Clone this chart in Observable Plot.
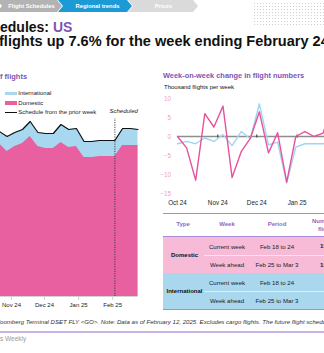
<!DOCTYPE html>
<html><head><meta charset="utf-8">
<script src="https://cdn.jsdelivr.net/npm/d3@7"></script>
<script src="https://cdn.jsdelivr.net/npm/@observablehq/plot@0.6"></script>
<style>
html,body{margin:0;padding:0;}
body{width:324px;height:353px;overflow:hidden;position:relative;background:#fff;font-family:Arial,"Liberation Sans",sans-serif;color:#111;}
.abs{position:absolute;white-space:nowrap;}
svg{max-width:none !important;}
.crumb{position:absolute;top:0;height:12px;clip-path:polygon(0 0,calc(100% - 5px) 0,100% 50%,calc(100% - 5px) 100%,0 100%,5px 50%);color:#fff;font-weight:bold;font-size:5.8px;line-height:12px;text-align:center;box-sizing:border-box;}
.hid{position:absolute;right:100%;}
.purple{color:#7D55B5;}
.th{position:absolute;font-size:6px;font-weight:bold;color:#8C6BC4;transform:translate(-50%,-50%);white-space:nowrap;text-align:center;line-height:7.5px;}
.td{position:absolute;font-size:6.1px;color:#222;transform:translate(-50%,-50%);white-space:nowrap;}
.tb{position:absolute;font-size:6px;font-weight:bold;color:#111;transform:translate(-50%,-50%);white-space:nowrap;}
.line{position:absolute;}
</style></head><body>
<div id="root"></div>
<script>
// ---------------- data ----------------
// Left chart: weekly flights, thousand flights per week (week dates)
const leftWeeks = ["2024-10-21","2024-10-28","2024-11-04","2024-11-11","2024-11-18","2024-11-25","2024-12-02","2024-12-09","2024-12-16","2024-12-23","2024-12-30","2025-01-06","2025-01-13","2025-01-20","2025-01-27","2025-02-03","2025-02-10","2025-02-17","2025-02-24"];
const leftTotal    = [165,160,164,167,175,164,163,163,172,167,168,155,155,156,156,156,168,168,167];
const leftDomestic = [153,145,150,153,160,150,148,148,154,149,150,139,139,140,140,140,151,151,151];
const leftTickDates  = ["2024-11-01","2024-12-01","2025-01-01","2025-02-01"];
const leftTickLabels = ["Nov 24","Dec 24","Jan 25","Feb 25"];
const scheduledFrom = "2025-02-03";

// Right chart: week-on-week change, thousand flights per week
const rightWeeks = ["2024-10-01","2024-10-08","2024-10-15","2024-10-22","2024-10-29","2024-11-05","2024-11-12","2024-11-19","2024-11-26","2024-12-03","2024-12-10","2024-12-17","2024-12-24","2024-12-31","2025-01-07","2025-01-14","2025-01-21","2025-01-28"];
const domesticChange      = [0,-3,-11.5,6,2.5,8,-10.8,-4,-0.5,6.5,-4.3,1,-12,0,1.3,0,0.9,8];
const internationalChange = [-1.9,-1.3,-1.9,-0.4,-1.3,0.5,-2.4,1.3,-0.6,8.6,-2.2,-1.5,-12.2,-2.8,-1.9,-1.9,-1.9,-1.5];
const rightTickDates  = ["2024-10-01","2024-11-01","2024-12-01","2025-01-01"];
const rightTickLabels = ["Oct 24","Nov 24","Dec 24","Jan 25"];
const rightYTicks = [-15,-10,-5,0,5,10];

// Table
const tableTypes = ["Domestic","International"];
const tableWeeks = ["Current week","Week ahead"];
const tablePeriods = ["Feb 18 to 24","Feb 25 to Mar 3"];
const tableNumbers = [["151,000","151,000"],["17,000","17,000"]];

// --------------- build ----------------
const D = s => new Date(s);
const root = document.getElementById("root");
const font = "Arial, 'Liberation Sans', sans-serif";

function add(html){ root.insertAdjacentHTML("beforeend", html); }

// breadcrumb
add(`<div class="crumb" style="left:-3px;width:65px;background:#B3B3B3;padding-left:4px">Flight Schedules</div>`);
add(`<div class="crumb" style="left:58px;width:74px;background:#1B9AD6;padding-left:5px">Regional trends</div>`);
add(`<div class="crumb" style="left:128px;width:70px;background:#DADADA;padding-left:1px">Prices</div>`);
add(`<div class="abs" style="left:253px;top:2px;width:71px;height:24px;background-image:radial-gradient(circle,#cfcfcf 0.7px,transparent 0.9px);background-size:3px 3px"></div>`);

// titles
add(`<div class="abs" style="left:0;top:19.6px;font-size:14px;line-height:14px;font-weight:bold"><span class="hid">Flight Sch</span>edules: <span class="purple">US</span></div>`);
add(`<div class="abs" style="left:-1px;top:34.3px;font-size:14.55px;line-height:14.55px;font-weight:bold">flights up 7.6% for the week ending February 24</div>`);

// left chart header + legend
add(`<div class="abs purple" style="left:0;top:73px;font-size:7.5px;line-height:7.5px;font-weight:bold"><span class="hid">Number o</span>f flights</div>`);
add(`<div class="abs" style="left:5px;top:91.7px;width:12px;height:3.8px;background:#A8D8F0"></div>`);
add(`<div class="abs" style="left:5px;top:101.2px;width:12px;height:3.8px;background:#E8609F"></div>`);
add(`<div class="abs" style="left:5px;top:111.7px;width:12px;height:1.3px;background:#111"></div>`);
add(`<div class="abs" style="left:18.3px;top:90.3px;font-size:6px;line-height:6px;color:#222">International</div>`);
add(`<div class="abs" style="left:18.3px;top:99.7px;font-size:6px;line-height:6px;color:#222">Domestic</div>`);
add(`<div class="abs" style="left:18.3px;top:109.3px;font-size:6px;line-height:6px;color:#222">Schedule from the prior week</div>`);

// left chart
const leftData = leftWeeks.map((w,i)=>({date:D(w), total:leftTotal[i], domestic:leftDomestic[i]}));
const lTicks = leftTickDates.map(D);
const sched = D(scheduledFrom);
const left = Plot.plot({
  width:150, height:232, marginLeft:8.9, marginRight:2.5, marginTop:16, marginBottom:16,
  style:{fontFamily:font, fontSize:"6px", background:"transparent", color:"#222"},
  x:{type:"utc", domain:[D(leftWeeks[0]), D(leftWeeks[leftWeeks.length-1])]},
  y:{domain:[0,200], axis:null},
  marks:[
    Plot.areaY(leftData,{x:"date", y:"total", fill:"#A8D8F0"}),
    Plot.areaY(leftData,{x:"date", y:"domestic", fill:"#E8609F"}),
    Plot.lineY(leftData,{x:"date", y:"total", stroke:"#111", strokeWidth:1.2}),
    Plot.ruleX([sched],{x:d=>d, y1:0, y2:178, stroke:"#333", strokeWidth:0.9, strokeDasharray:"1.2,1.2"}),
    Plot.text(["Scheduled"],{x:()=>sched, y:185.3, text:d=>d, textAnchor:"start", dx:-5.4, fontStyle:"italic", fontSize:6, fill:"#222"}),
    Plot.ruleY([0],{stroke:"#D3D3D3", strokeWidth:1}),
    Plot.axisX({ticks:lTicks, tickFormat:d=>leftTickLabels[lTicks.findIndex(t=>+t===+d)], tickSize:4, tickPadding:2, stroke:"#D0D0D0", fill:"#222", label:null})
  ]
});
const lwrap = document.createElement("div");
lwrap.className="abs"; lwrap.style.left="-10px"; lwrap.style.top="80px";
lwrap.appendChild(left); root.appendChild(lwrap);

// right chart header
add(`<div class="abs purple" style="left:163px;top:72.2px;font-size:7.4px;line-height:7.4px;font-weight:bold">Week-on-week change in flight numbers</div>`);
add(`<div class="abs" style="left:164px;top:84.2px;font-size:6px;line-height:6px;color:#111">Thousand flights per week</div>`);

// right chart
const rightData = rightWeeks.map((w,i)=>({date:D(w), dom:domesticChange[i], intl:internationalChange[i]}));
const rTicks = rightTickDates.map(D);
const r0 = D("2024-10-01"), r1 = D("2025-02-25");
const right = Plot.plot({
  width:230, height:120, marginLeft:27, marginRight:11.9, marginTop:8, marginBottom:17,
  style:{fontFamily:font, fontSize:"6.3px", background:"transparent", color:"#222"},
  x:{type:"utc", domain:[r0, r1]},
  y:{domain:[-15,10]},
  marks:[
    Plot.axisY({ticks:rightYTicks, tickSize:0, tickPadding:6.5, fill:"#F29AC2", label:null}),
    Plot.axisX({ticks:rTicks, tickFormat:d=>rightTickLabels[rTicks.findIndex(t=>+t===+d)], tickSize:0, tickPadding:7.5, fill:"#222", label:null}),
    Plot.ruleY([0],{x1:()=>r0, x2:()=>r1, stroke:"#8E8E8E", strokeWidth:1.6}),
    Plot.ruleX(rTicks.slice(1),{x:d=>d, y1:-0.4, y2:0.4, stroke:"#333", strokeWidth:1}),
    Plot.lineY(rightData,{x:"date", y:"intl", stroke:"#9ED5F1", strokeWidth:1.4}),
    Plot.lineY(rightData,{x:"date", y:"dom", stroke:"#E8529C", strokeWidth:1.4})
  ]
});
const rwrap = document.createElement("div");
rwrap.className="abs"; rwrap.style.left="150px"; rwrap.style.top="90px";
rwrap.appendChild(right); root.appendChild(rwrap);

// table
add(`<div class="line" style="left:163px;top:212.5px;width:170px;height:1px;background:#A88BD6"></div>`);
add(`<div class="th" style="left:183px;top:225px">Type</div>`);
add(`<div class="th" style="left:227px;top:225px">Week</div>`);
add(`<div class="th" style="left:277px;top:225px">Period</div>`);
add(`<div class="th" style="left:327px;top:225px">Number of<br>flights</div>`);
add(`<div class="line" style="left:163px;top:236px;width:170px;height:1px;background:#A88BD6"></div>`);
add(`<div class="line" style="left:163px;top:237px;width:170px;height:36px;background:#F7BBD8"></div>`);
add(`<div class="line" style="left:163px;top:273px;width:170px;height:36px;background:#A9D8EE"></div>`);
add(`<div class="line" style="left:204px;top:254.8px;width:130px;height:0.8px;background:rgba(255,255,255,0.6)"></div>`);
add(`<div class="line" style="left:204px;top:290.8px;width:130px;height:0.8px;background:rgba(255,255,255,0.6)"></div>`);
add(`<div class="line" style="left:163px;top:308.8px;width:170px;height:1.6px;background:#A88BD6"></div>`);
const rowY = [[245.7,264],[282,300]];
const typeY = [255,291];
tableTypes.forEach((t,i)=>{
  add(`<div class="tb" style="left:184.5px;top:${typeY[i]}px">${t}</div>`);
  tableWeeks.forEach((w,j)=>{
    add(`<div class="td" style="left:227px;top:${rowY[i][j]}px">${w}</div>`);
    add(`<div class="td" style="left:277px;top:${rowY[i][j]}px">${tablePeriods[j]}</div>`);
    add(`<div class="abs" style="left:${i===0?320:326}px;top:${rowY[i][j]-3.5}px;font-size:6.1px;line-height:7px;font-weight:bold;color:#222">${tableNumbers[i][j]}</div>`);
  });
});

// footer
add(`<div class="abs" style="left:0;top:318.7px;font-size:6.1px;line-height:6.1px;font-style:italic;color:#333"><span class="hid">Source: Bl</span>oomberg Terminal DSET FLY &lt;GO&gt;. Note: Data as of February 12, 2025. Excludes cargo flights. The future flight schedule is subject to change.</div>`);
add(`<div class="line" style="left:0;top:331px;width:324px;height:1.5px;background:#C9B3E6"></div>`);
add(`<div class="abs" style="left:0;top:336px;font-size:6.5px;line-height:6.5px;color:#9A9A9A"><span class="hid">Airline</span>s Weekly</div>`);
</script>
</body></html>
